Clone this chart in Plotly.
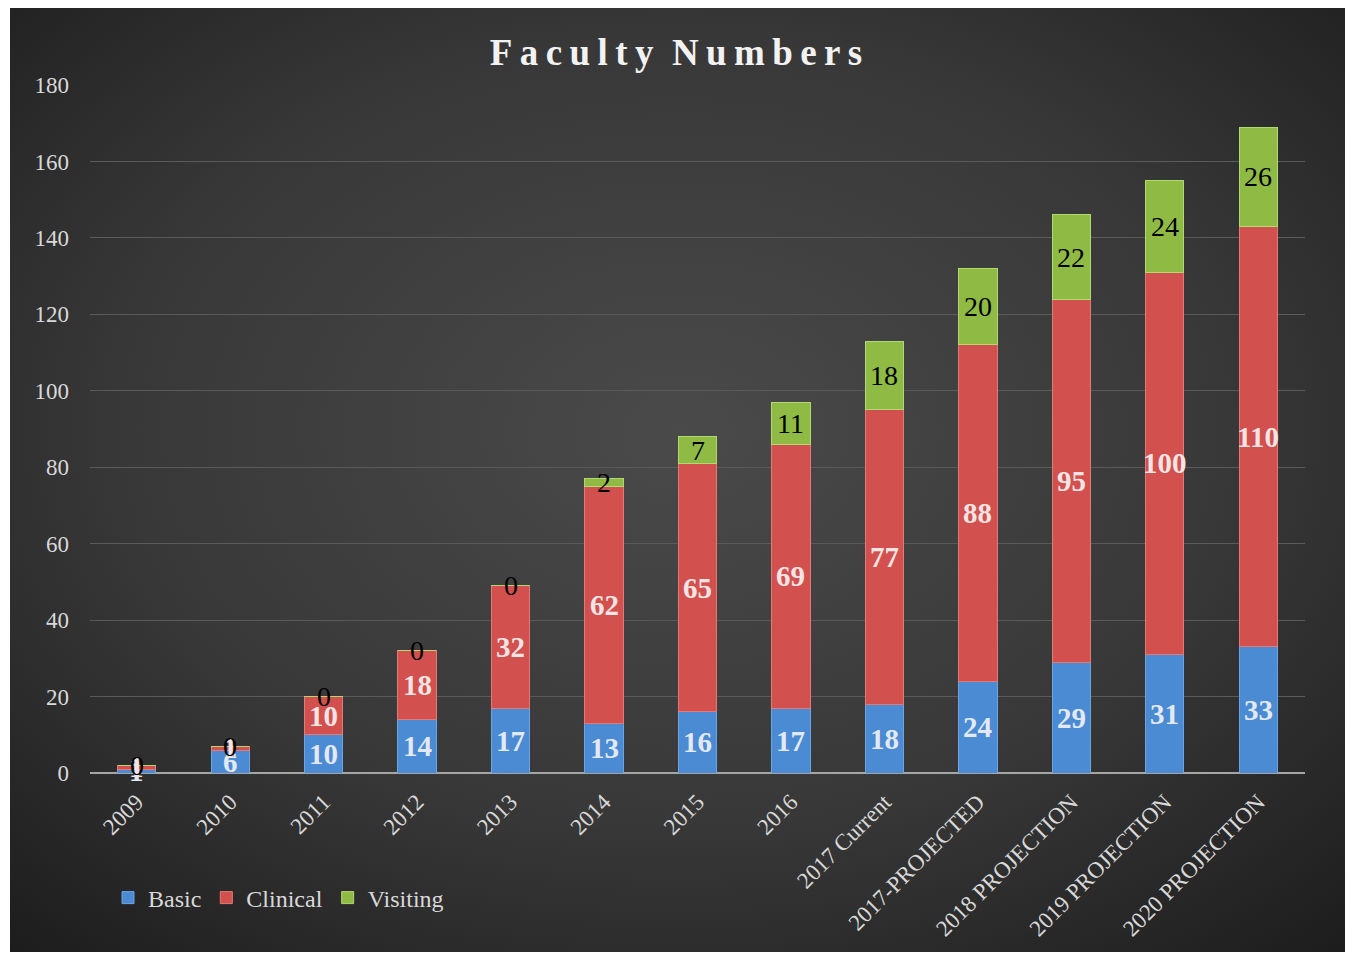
import base64
import plotly.graph_objects as go

categories = ["2009", "2010", "2011", "2012", "2013", "2014", "2015", "2016",
              "2017 Current", "2017-PROJECTED", "2018 PROJECTION",
              "2019 PROJECTION", "2020 PROJECTION"]
basic = [1, 6, 10, 14, 17, 13, 16, 17, 18, 24, 29, 31, 33]
clinical = [1, 1, 10, 18, 32, 62, 65, 69, 77, 88, 95, 100, 110]
visiting = [0, 0, 0, 0, 0, 2, 7, 11, 18, 20, 22, 24, 26]

W, H = 1357, 954
OFF = 8  # page body margin
ML, MR, MT, MB = 90 - OFF, W - (1305 - OFF), 85 - OFF, H - (773 - OFF)
PW = W - ML - MR
PH = H - MT - MB

FONT = "Liberation Serif"

fig = go.Figure()
fig.add_trace(go.Bar(name="Basic", x=categories, y=basic,
                     marker=dict(color="#4a8bd3", line=dict(color="#6aa6e6", width=1))))
fig.add_trace(go.Bar(name="Clinical", x=categories, y=clinical,
                     marker=dict(color="#d2504d", line=dict(color="#e47a76", width=1))))
fig.add_trace(go.Bar(name="Visiting", x=categories, y=visiting,
                     marker=dict(color="#8fbb45", line=dict(color="#b1d873", width=1))))

# data labels (x given as category index)
for i, c in enumerate(categories):
    b, cl, v = basic[i], clinical[i], visiting[i]
    fig.add_annotation(x=i, y=b / 2, text=f"<b>{b}</b>", showarrow=False,
                       font=dict(family=FONT, size=29, color="#e3e9f2"))
    fig.add_annotation(x=i, y=b + cl / 2, text=f"<b>{cl}</b>", showarrow=False,
                       font=dict(family=FONT, size=29, color="#f2e4e4"))
    fig.add_annotation(x=i, y=b + cl + v / 2, text=f"{v}", showarrow=False,
                       font=dict(family=FONT, size=28, color="#000000"))

# radial gradient background
svg = """<svg xmlns='http://www.w3.org/2000/svg' width='1335' height='946' viewBox='0 0 1335 946' preserveAspectRatio='none'>
<defs><radialGradient id='g' cx='50%' cy='45%' r='75%'>
<stop offset='0%' stop-color='#4a4a4a'/>
<stop offset='55%' stop-color='#383838'/>
<stop offset='100%' stop-color='#1c1c1c'/>
</radialGradient></defs>
<rect width='1335' height='946' fill='url(#g)'/></svg>"""
src = "data:image/svg+xml;base64," + base64.b64encode(svg.encode()).decode()
x0, y0, x1, y1 = 10 - OFF, 6 - OFF, 1345 - OFF, 952 - OFF
fig.add_layout_image(source=src, xref="paper", yref="paper",
                     x=(x0 - ML) / PW, y=(H - MB - y0) / PH,
                     sizex=(x1 - x0) / PW, sizey=(y1 - y0) / PH,
                     sizing="stretch", xanchor="left", yanchor="top",
                     layer="below")

title_txt = "\u2002".join("\u2009".join(w) for w in "Faculty Numbers".split())

fig.update_layout(
    width=W, height=H,
    margin=dict(l=ML, r=MR, t=MT, b=MB),
    barmode="stack", bargap=0.59,
    paper_bgcolor="#ffffff", plot_bgcolor="rgba(0,0,0,0)",
    title=dict(text=f"<b>{title_txt}</b>",
               x=(676 - OFF) / W, xanchor="center", y=1 - (52 - OFF) / H, yanchor="middle",
               font=dict(family=FONT, size=37, color="#f2f2f2")),
    font=dict(family=FONT, size=23, color="#d9d9d9"),
    legend=dict(orientation="h", x=(108 - OFF - ML) / PW, y=(H - MB - (898 - OFF)) / PH,
                xanchor="left", yanchor="middle",
                font=dict(family=FONT, size=24, color="#d9d9d9"),
                bgcolor="rgba(0,0,0,0)", itemwidth=30, traceorder="normal"),
    xaxis=dict(type="category", range=[-0.5, len(categories) - 0.5],
               tickangle=-45, showgrid=False, showline=False, ticks="",
               ticklabelstandoff=10,
               tickfont=dict(family=FONT, size=23, color="#d9d9d9")),
    yaxis=dict(range=[0, 180], dtick=20, showgrid=True, gridcolor="#5a5a5a",
               gridwidth=1, zeroline=True, zerolinecolor="#a6a6a6", zerolinewidth=2,
               ticklabelstandoff=20,
               tickfont=dict(family=FONT, size=23, color="#d9d9d9")),
)

fig.write_html("out.html")
